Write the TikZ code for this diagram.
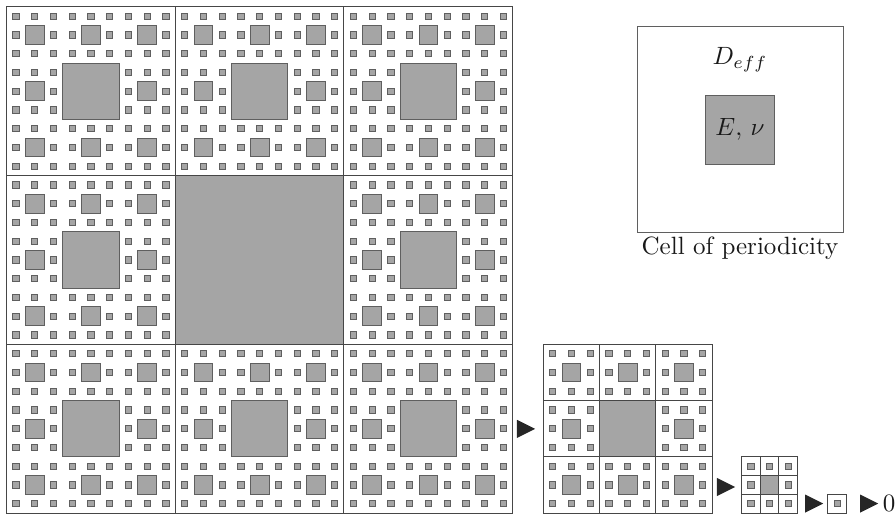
\documentclass[tikz,border=0pt]{standalone}
\usepackage{amsmath}
\usepackage{graphicx}
\usepackage{tikz}
\usetikzlibrary{positioning}
\definecolor{holegray}{RGB}{165,165,165}
\definecolor{edgegray}{RGB}{95,95,95}
\definecolor{inkgray}{RGB}{70,70,70}

% the eight outer positions of a 3x3 block (centre left out)
\newcommand{\ringcells}{0/0,1/0,2/0,0/1,2/1,0/2,1/2,2/2}
% 10pt text blown up, as in the scanned figure
\newcommand{\bigtxt}[1]{\scalebox{2.5}{#1}}

\tikzset{
  hole/.style={fill=holegray, draw=edgegray, line width=0.4pt},
  gridline/.style={draw=inkgray, line width=0.6pt},
  pointer/.style={fill=black!85},
  txt/.style={text=black!90}
}

\begin{document}
\begin{tikzpicture}[x=6.25pt, y=6.25pt]
\useasboundingbox (0,0) rectangle (143.36,82.72);

% Big carpet: 3x3 cells, holes of size 27, 9, 3, 1
\begin{scope}[shift={(1,0.65)}]
\fill[holegray] (27,27) rectangle (54,54);
\foreach \a/\b in \ringcells {
  \draw[hole] (27*\a+9, 27*\b+9) rectangle ++(9,9);
  \foreach \c/\d in \ringcells {
    \draw[hole] (27*\a+9*\c+3, 27*\b+9*\d+3) rectangle ++(3,3);
    \foreach \e/\f in \ringcells {
      \draw[hole] (27*\a+9*\c+3*\e+1, 27*\b+9*\d+3*\f+1) rectangle ++(1,1);
    }
  }
}
\foreach \i in {0,1,2} {
  \foreach \j in {0,1,2} {
    \draw[gridline] (27*\i, 27*\j) rectangle ++(27,27);
  }
}
\end{scope}

% Next step: 3x3 cells of size 9
\begin{scope}[shift={(86.9,0.65)}]
\fill[holegray] (9,9) rectangle (18,18);
\foreach \a/\b in \ringcells {
  \draw[hole] (9*\a+3, 9*\b+3) rectangle ++(3,3);
  \foreach \c/\d in \ringcells {
    \draw[hole] (9*\a+3*\c+1, 9*\b+3*\d+1) rectangle ++(1,1);
  }
}
\foreach \i in {0,1,2} {
  \foreach \j in {0,1,2} {
    \draw[gridline] (9*\i, 9*\j) rectangle ++(9,9);
  }
}
\end{scope}

% 3x3 cells of size 3
\begin{scope}[shift={(118.6,0.65)}]
\fill[holegray] (3,3) rectangle (6,6);
\foreach \a/\b in \ringcells {
  \draw[hole] (3*\a+1, 3*\b+1) rectangle ++(1,1);
}
\foreach \i in {0,1,2} {
  \foreach \j in {0,1,2} {
    \draw[gridline] (3*\i, 3*\j) rectangle ++(3,3);
  }
}
\end{scope}

% single cell
\begin{scope}[shift={(132.4,0.65)}]
\draw[hole] (1,1) rectangle ++(1,1);
\draw[gridline] (0,0) rectangle (3,3);
\end{scope}

% pointers between the steps
\foreach \x/\y in {82.7/14.1, 114.7/4.8, 128.8/2.15, 137.6/2.15} {
  \fill[pointer] (\x,\y-1.45) -- ++(2.9,1.45) -- ++(-2.9,1.45) -- cycle;
}
\node[txt, inner sep=0pt] (limit) at (142.25,2.2) {\bigtxt{$0$}};

% Cell of periodicity
\node[draw=edgegray, line width=0.6pt, minimum size=206.25pt, inner sep=0pt] (cell) at (118.4,62) {};
\node[hole, minimum size=68.75pt, inner sep=0pt, txt] (matrix) at (118.4,62) {\bigtxt{$E,\,\nu$}};
\node[txt] (deff) at (118.4,73.2) {\bigtxt{$D_{eff}$}};
\node[txt, below=0pt of cell, inner sep=4pt] (caption) {\bigtxt{Cell of periodicity}};

\end{tikzpicture}
\end{document}
